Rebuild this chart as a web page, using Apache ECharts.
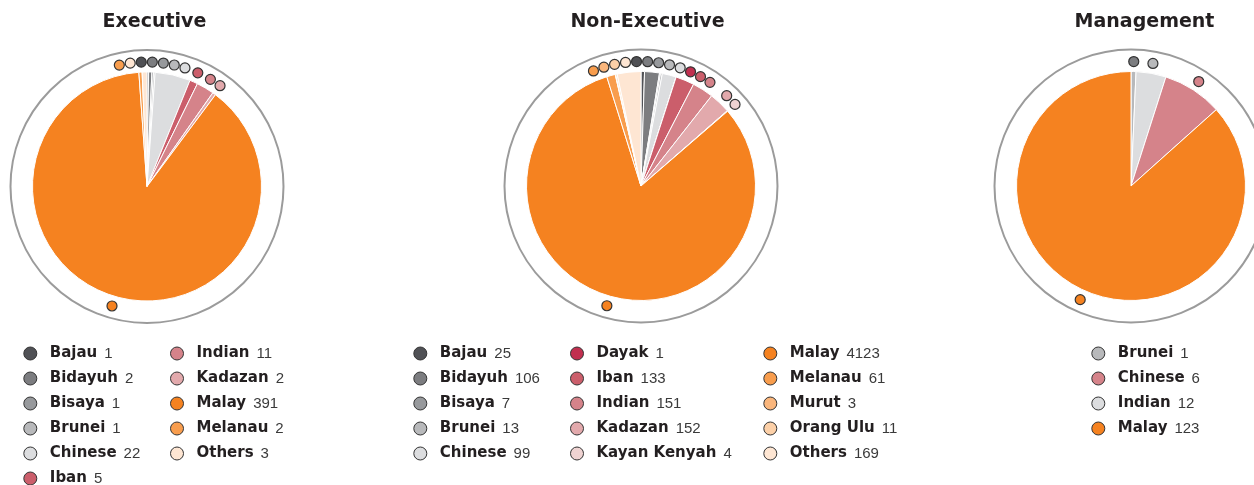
<!DOCTYPE html>
<html><head><meta charset="utf-8">
<script src="https://cdn.jsdelivr.net/npm/echarts@6/dist/echarts.min.js"></script>
<style>html,body{margin:0;padding:0;background:#fff}#c{width:1254px;height:485px}</style>
</head><body><div id="c"></div>
<script>
// ---------------- data ----------------
const titles = ['Executive', 'Non-Executive', 'Management'];
const execCategories = ['Bajau','Bidayuh','Bisaya','Brunei','Chinese','Iban','Indian','Kadazan','Malay','Melanau','Others'];
const execValues = [1, 2, 1, 1, 22, 5, 11, 2, 391, 2, 3];
const nonExecCategories = ['Bajau','Bidayuh','Bisaya','Brunei','Chinese','Dayak','Iban','Indian','Kadazan','Kayan Kenyah','Malay','Melanau','Murut','Orang Ulu','Others'];
const nonExecValues = [25, 106, 7, 13, 99, 1, 133, 151, 152, 4, 4123, 61, 3, 11, 169];
const mgmtCategories = ['Brunei','Chinese','Indian','Malay'];
const mgmtValues = [1, 6, 12, 123];

// ---------------- styles ----------------
const palette = {
  'Bajau':'#505155','Bidayuh':'#7c7d80','Bisaya':'#97999c','Brunei':'#b8b9bb','Chinese':'#dcdddf',
  'Dayak':'#c12f4f','Iban':'#cb5e6b','Indian':'#d5838a','Kadazan':'#e2a9ac','Kayan Kenyah':'#efd3d2',
  'Malay':'#f58220','Melanau':'#f89d4d','Murut':'#fab67c','Orang Ulu':'#fcd0a8','Others':'#fee6d3'
};
const PIE_R = 114.5, RING_R = 136.5, MARK_R = 124.5, MARK_GAP_DEG = 5.1;

const panels = [
  { cats: execCategories, vals: execValues, center: [147, 186.5], titleX: 154.5,
    sliceColors: execCategories.map(n => palette[n]),
    markerColors: execCategories.map(n => palette[n]),
    legendColors: execCategories.map(n => palette[n]),
    cols: [{ left: 23.3, from: 0, to: 6 }, { left: 170, from: 6, to: 11 }] },
  { cats: nonExecCategories, vals: nonExecValues, center: [641, 186], titleX: 647.5,
    sliceColors: nonExecCategories.map(n => palette[n]),
    markerColors: nonExecCategories.map(n => palette[n]),
    legendColors: nonExecCategories.map(n => palette[n]),
    cols: [{ left: 413.3, from: 0, to: 5 }, { left: 570, from: 5, to: 10 }, { left: 763.3, from: 10, to: 15 }] },
  { cats: mgmtCategories, vals: mgmtValues, center: [1131, 186], titleX: 1144.5,
    sliceColors: ['#b8b9bb', '#dcdddf', '#d5838a', '#f58220'],
    markerColors: ['#7c7d80', '#b8b9bb', '#d5838a', '#f58220'],
    legendColors: ['#b8b9bb', '#d5838a', '#dcdddf', '#f58220'],
    cols: [{ left: 1091.3, from: 0, to: 4 }] }
];

// marker angles: slice mid-angles, spread apart where they collide (isotonic / PAVA)
function spread(sortedMids, d) {
  const blocks = [];
  sortedMids.forEach((m, i) => {
    blocks.push({ sum: m - i * d, cnt: 1 });
    while (blocks.length > 1) {
      const b = blocks[blocks.length - 1], a = blocks[blocks.length - 2];
      if (a.sum / a.cnt > b.sum / b.cnt) { a.sum += b.sum; a.cnt += b.cnt; blocks.pop(); } else break;
    }
  });
  const out = [];
  blocks.forEach(b => { for (let k = 0; k < b.cnt; k++) out.push(b.sum / b.cnt); });
  return out.map((y, i) => y + i * d);
}
function markerAngles(vals) {
  const total = vals.reduce((a, b) => a + b, 0);
  let cum = 0;
  const mids = vals.map(v => { const m = (cum + v / 2) / total * 360; cum += v; return m > 180 ? m - 360 : m; });
  const order = mids.map((m, i) => i).sort((a, b) => mids[a] - mids[b]);
  const spreadVals = spread(order.map(i => mids[i]), MARK_GAP_DEG);
  const res = new Array(vals.length);
  order.forEach((idx, k) => { res[idx] = (spreadVals[k] + 360) % 360; });
  return res;
}

const polar = [], angleAxis = [], radiusAxis = [], series = [], legend = [], graphic = [];
panels.forEach((p, i) => {
  polar.push({ center: p.center, radius: RING_R });
  angleAxis.push({ polarIndex: i, type: 'value', min: 0, max: 360, startAngle: 90, clockwise: true,
    axisLine: { show: true, lineStyle: { color: '#9b9b9b', width: 2 } },
    axisTick: { show: false }, axisLabel: { show: false }, splitLine: { show: false } });
  radiusAxis.push({ polarIndex: i, type: 'value', min: 0, max: RING_R,
    axisLine: { show: false }, axisTick: { show: false }, axisLabel: { show: false }, splitLine: { show: false } });
  series.push({
    type: 'pie', center: p.center, radius: PIE_R, startAngle: 90, clockwise: true, silent: true,
    label: { show: false }, labelLine: { show: false }, emphasis: { disabled: true }, z: 2,
    itemStyle: { borderColor: '#ffffff', borderWidth: 1 },
    data: p.cats.map((n, k) => ({ name: n, value: p.vals[k], itemStyle: { color: p.sliceColors[k] } }))
  });
  const ang = markerAngles(p.vals);
  series.push({
    type: 'scatter', coordinateSystem: 'polar', polarIndex: i, symbol: 'circle', symbolSize: 10, silent: true, z: 5,
    itemStyle: { borderColor: '#333333', borderWidth: 1.2, opacity: 1 },
    data: p.cats.map((n, k) => ({ value: [MARK_R, ang[k]], itemStyle: { color: p.markerColors[k] } }))
  });
  p.cols.forEach(c => {
    legend.push({
      orient: 'vertical', left: c.left, top: 346, height: 170, padding: 0, itemGap: 10, itemWidth: 13, itemHeight: 13,
      selectedMode: false, icon: 'circle',
      data: p.cats.slice(c.from, c.to).map((n, k) => ({
        name: n, icon: 'circle',
        itemStyle: { color: p.legendColors[c.from + k], borderColor: '#333333', borderWidth: 1 }
      })),
      formatter: name => '{n|' + name + '}{v|' + p.vals[p.cats.indexOf(name)] + '}',
      textStyle: { rich: {
        n: { fontFamily: 'DejaVu Sans', fontWeight: 'bold', fontSize: 15, color: '#231f20', padding: [0, 0, 0, 8], lineHeight: 20 },
        v: { fontFamily: 'Liberation Sans', fontSize: 15, color: '#3a3a3a', padding: [0, 0, 0, 7], lineHeight: 20 }
      } }
    });
  });
  graphic.push({ type: 'text', x: p.titleX, y: 22.5, silent: true,
    style: { text: titles[i], align: 'center', verticalAlign: 'middle', fontFamily: 'DejaVu Sans', fontWeight: 'bold', fontSize: 19, fill: '#231f20' } });
});

const chart = echarts.init(document.getElementById('c'), null, { renderer: 'canvas' });
chart.setOption({ animation: false, backgroundColor: '#ffffff', polar, angleAxis, radiusAxis, series, legend, graphic });
</script></body></html>
